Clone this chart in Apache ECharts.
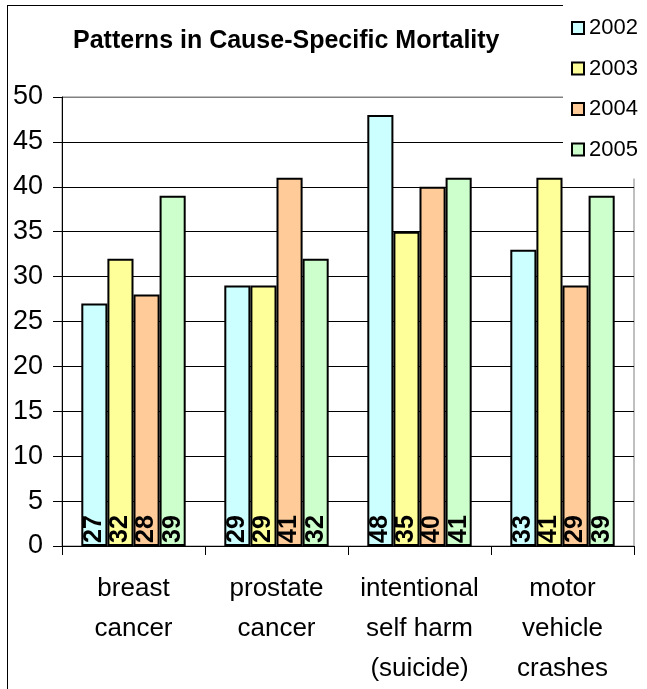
<!DOCTYPE html>
<html>
<head>
<meta charset="utf-8">
<script src="https://cdn.jsdelivr.net/npm/echarts@6/dist/echarts.min.js"></script>
<style>
  html, body { margin: 0; padding: 0; background: #fff; }
  #chart { width: 647px; height: 689px; }
</style>
</head>
<body>
<div id="chart"></div>
<script>
// categories and values
var categories = ["breast\ncancer", "prostate\ncancer", "intentional\nself harm\n(suicide)", "motor\nvehicle\ncrashes"];
var years = ["2002", "2003", "2004", "2005"];
var colors = ["#CCFFFF", "#FFFF99", "#FFCC99", "#CCFFCC"];
var v2002 = [27, 29, 48, 33];
var v2003 = [32, 29, 35, 41];
var v2004 = [28, 41, 40, 29];
var v2005 = [39, 32, 41, 39];
var yTicks = [0, 5, 10, 15, 20, 25, 30, 35, 40, 45, 50];

var font = "Liberation Sans, Arial, sans-serif";
var chart = echarts.init(document.getElementById("chart"));

function makeSeries(name, data, color) {
  return {
    name: name,
    type: "bar",
    data: data,
    barGap: "0%",
    barCategoryGap: "27%",
    itemStyle: { color: color, borderColor: "#000", borderWidth: 2 },
    label: {
      show: true,
      position: "insideBottom",
      rotate: 90,
      align: "left",
      verticalAlign: "middle",
      distance: 3,
      fontFamily: font,
      fontWeight: "bold",
      fontSize: 25,
      color: "#000"
    }
  };
}

// gridline colours: black, top one gray (plot border)
var splitColors = yTicks.map(function (t, i) {
  return i === yTicks.length - 1 ? "#808080" : "#000";
});

chart.setOption({
  animation: false,
  title: {
    text: "Patterns in Cause-Specific Mortality",
    left: 68,
    top: 24,
    textStyle: { fontFamily: font, fontWeight: "bold", fontSize: 25, color: "#000" }
  },
  legend: {
    orient: "vertical",
    left: 563,
    top: 0,
    padding: [17, 20, 18, 8],
    backgroundColor: "#fff",
    itemWidth: 12,
    itemHeight: 12,
    itemGap: 18.5,
    icon: "rect",
    z: 10,
    textStyle: { fontFamily: font, fontSize: 22, color: "#000" },
    data: years
  },
  grid: {
    left: 62,
    right: 13,
    top: 97,
    bottom: 141,
    show: true,
    borderColor: "#808080",
    borderWidth: 1,
    containLabel: false
  },
  graphic: [
    { type: "line", shape: { x1: 7.5, y1: 5, x2: 7.5, y2: 689 }, style: { stroke: "#000", lineWidth: 1 } },
    { type: "line", shape: { x1: 7, y1: 5.5, x2: 647, y2: 5.5 }, style: { stroke: "#000", lineWidth: 1 } }
  ],
  xAxis: {
    type: "category",
    data: categories,
    axisLine: { lineStyle: { color: "#000", width: 1 } },
    axisTick: { show: true, length: 9, lineStyle: { color: "#000" } },
    axisLabel: {
      interval: 0,
      fontFamily: font,
      fontSize: 26,
      color: "#000",
      lineHeight: 40,
      margin: 23
    }
  },
  yAxis: {
    type: "value",
    min: 0,
    max: 50,
    interval: 5,
    axisLine: { show: true, lineStyle: { color: "#000", width: 1 } },
    axisTick: { show: true, length: 9, lineStyle: { color: "#000" } },
    splitLine: { show: true, lineStyle: { color: splitColors, width: 1 } },
    axisLabel: { fontFamily: font, fontSize: 27, color: "#000", margin: 19 }
  },
  series: [
    makeSeries(years[0], v2002, colors[0]),
    makeSeries(years[1], v2003, colors[1]),
    makeSeries(years[2], v2004, colors[2]),
    makeSeries(years[3], v2005, colors[3])
  ]
});
</script>
</body>
</html>
